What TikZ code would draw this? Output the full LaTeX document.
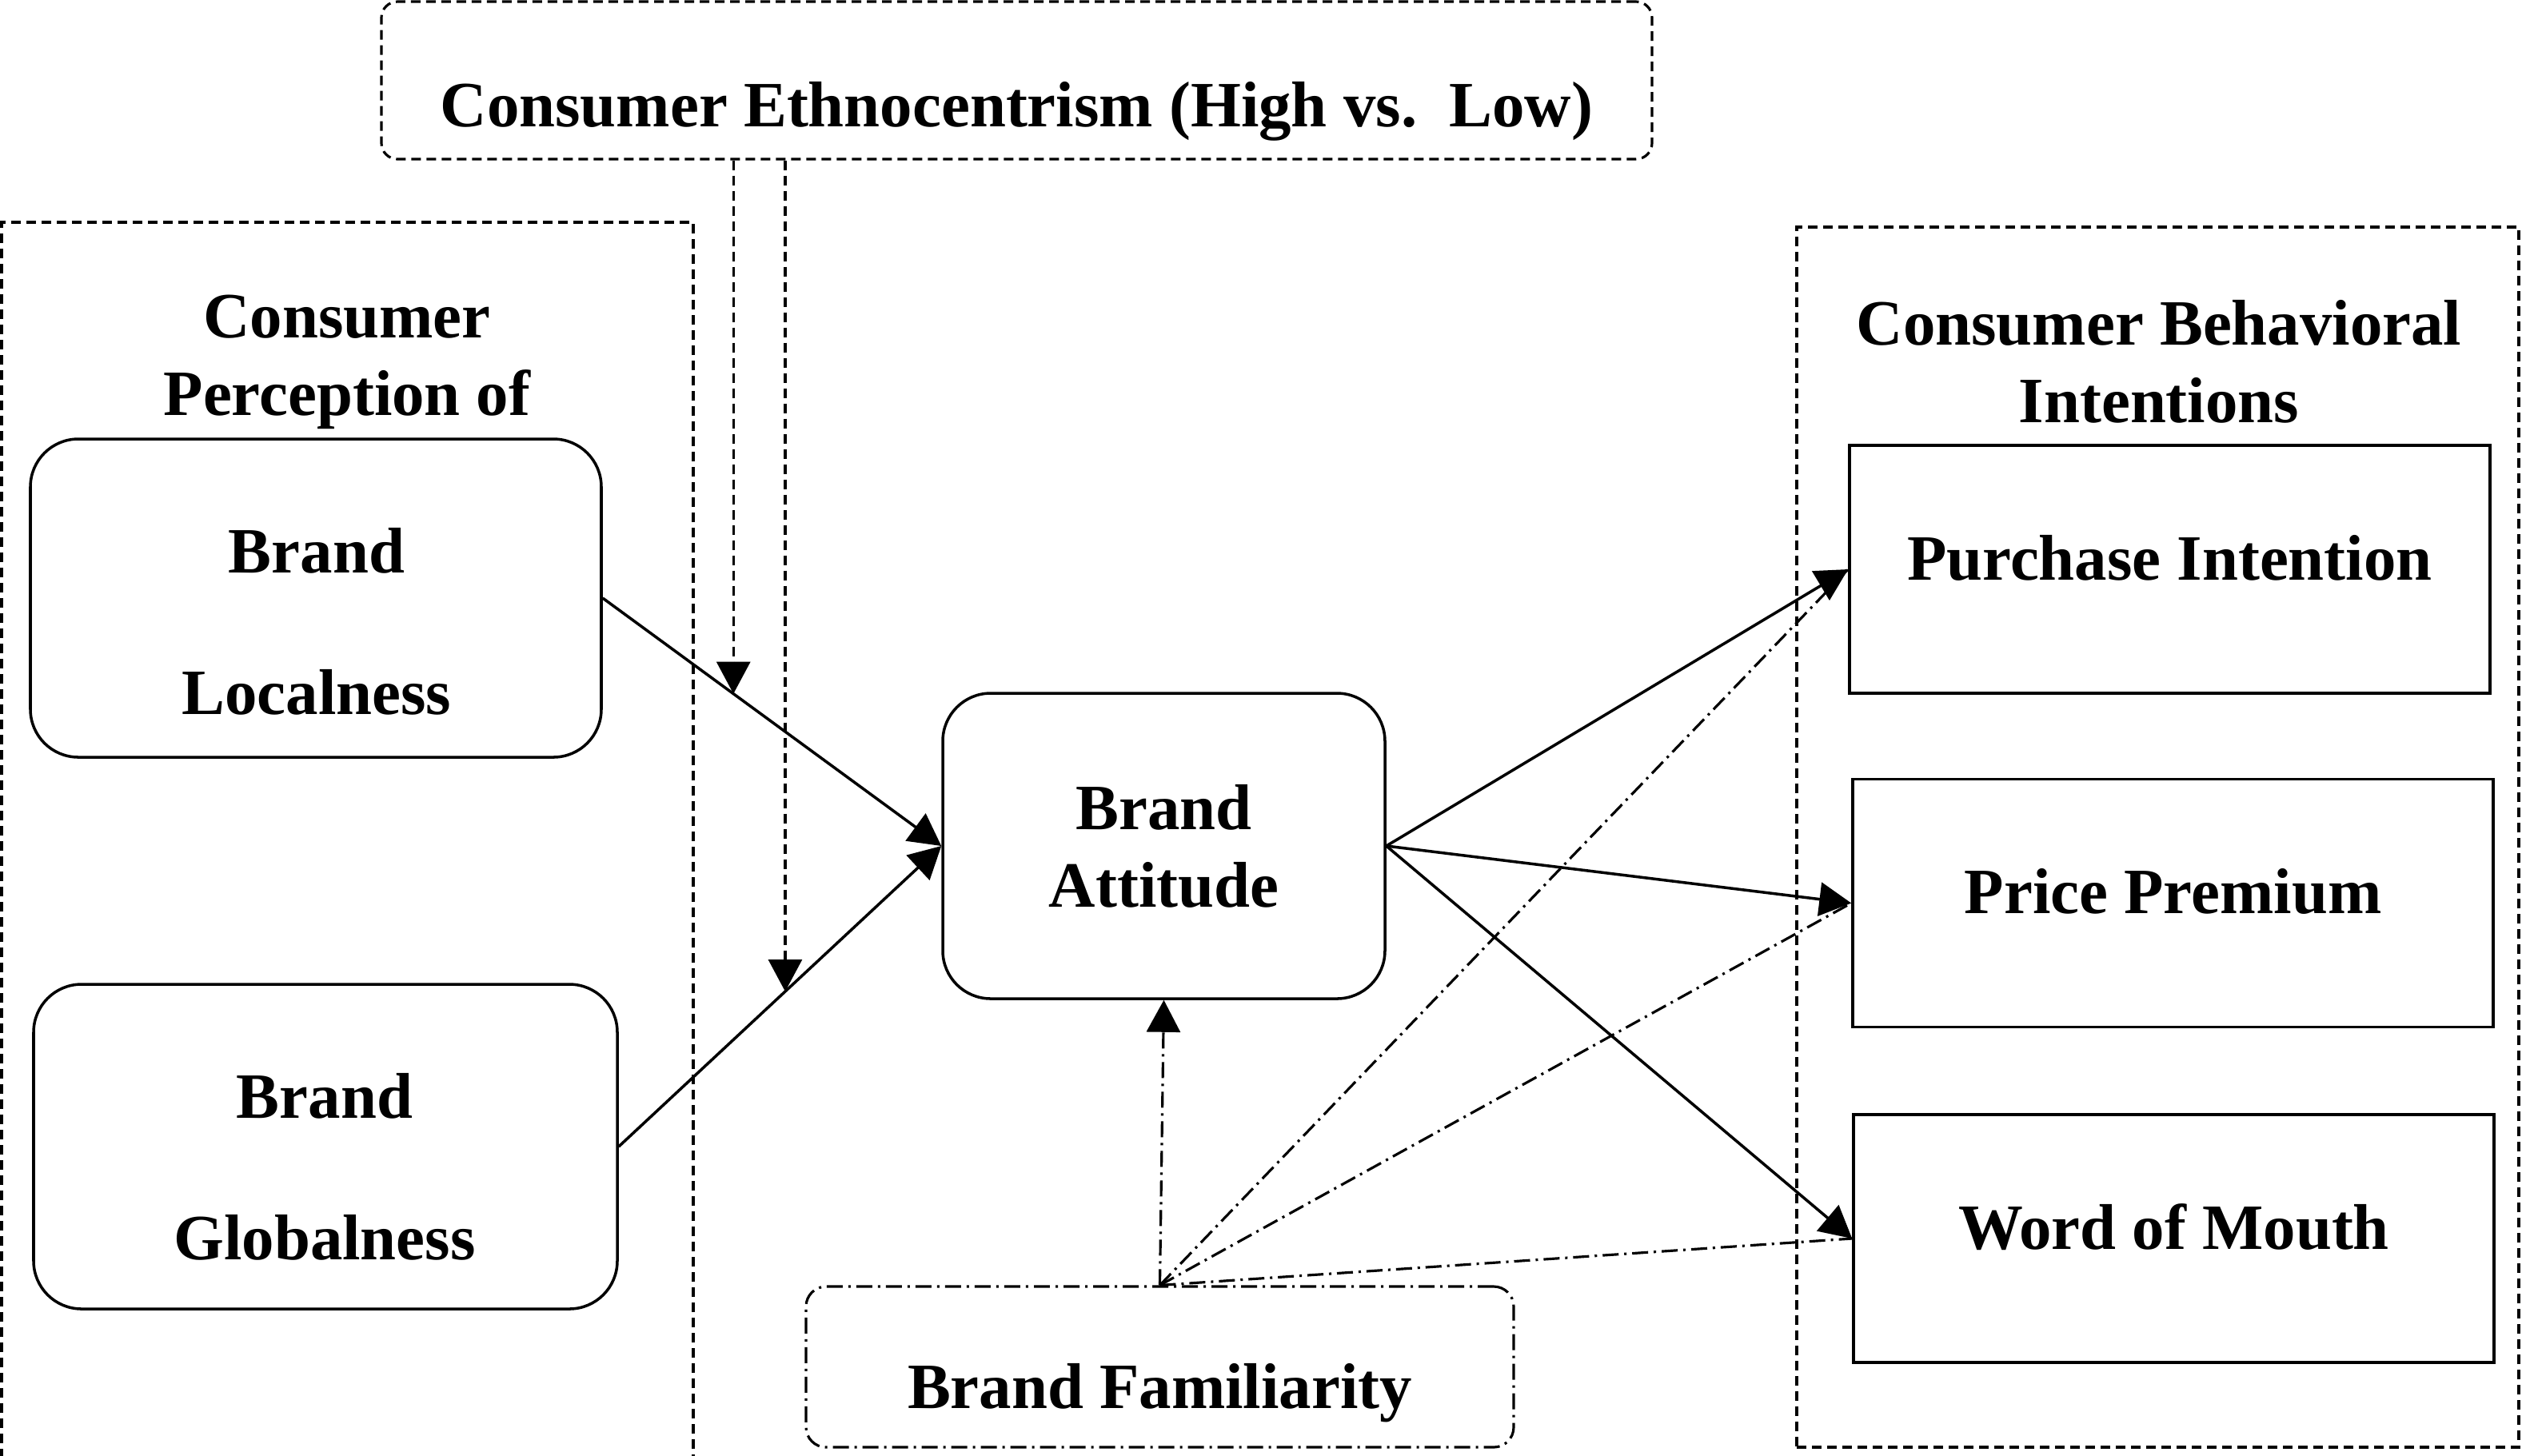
\documentclass[tikz,border=0pt]{standalone}
\usepackage{fontspec}
\setmainfont{Liberation Serif}
\usepackage{tikz}
\usetikzlibrary{arrows.meta,calc}

\begin{document}
\begin{tikzpicture}[x=1cm,y=1cm,font=\fontsize{23}{27.6}\selectfont\bfseries,line width=1pt,
  grp/.style={draw,line width=0.9pt,dash pattern=on 0.12cm off 0.07cm},
  roundbox/.style={draw,rounded corners=0.6cm},
  outbox/.style={draw,inner sep=0pt,minimum width=8.01cm,text height=1.68cm,text depth=1.42cm},
  link/.style={-{Triangle[length=0.40cm,width=0.42cm]}},
  modlink/.style={link,line width=0.9pt,dash pattern=on 0.12cm off 0.07cm},
  famlink/.style={line width=0.9pt,dash pattern=on 0.2cm off 0.07cm on 0.03cm off 0.07cm}]
  \useasboundingbox (0,0) rectangle (31.54,-18.20);

  % groups
  \node[grp,minimum width=8.65cm,minimum height=15.62cm] (lgrp) at (4.345,-10.59) {};
  \node[grp,minimum width=9.03cm,minimum height=15.26cm] (rgrp) at (26.985,-10.47) {};
  \node[align=center] (ltitle) at (4.34,-4.53) {Consumer\\Perception of};
  \node[align=center] (rtitle) at (27.00,-4.52) {Consumer Behavioral\\Intentions};

  % moderator
  \node[grp,rounded corners=0.2cm,inner sep=0pt,minimum width=15.89cm,text height=1.56cm,text depth=0.41cm]
    (ce) at (12.715,-1.005) {Consumer Ethnocentrism (High vs.\ \ Low)};

  % brand perception
  \node[roundbox,minimum width=7.14cm,minimum height=3.98cm] (bl) at (3.95,-7.48) {};
  \node[align=center] (bltext) at (3.96,-7.77) {Brand\\[22.8pt]Localness};
  \node[roundbox,minimum width=7.30cm,minimum height=4.06cm] (bg) at (4.07,-14.34) {};
  \node[align=center] (bgtext) at (4.06,-14.59) {Brand\\[22.8pt]Globalness};

  % attitude and familiarity
  \node[roundbox,minimum width=5.53cm,minimum height=3.82cm,align=center] (ba) at (14.555,-10.58) {Brand\\Attitude};
  \node[draw,famlink,rounded corners=0.25cm,inner sep=0pt,minimum width=8.85cm,text height=1.52cm,text depth=0.49cm]
    (bf) at (14.505,-17.095) {Brand Familiarity};

  % intentions
  \node[outbox] (pi) at (27.135,-7.12) {Purchase Intention};
  \node[outbox] (pp) at (27.175,-11.295) {Price Premium};
  \node[outbox] (wom) at (27.185,-15.49) {Word of Mouth};

  % paths
  \draw[link] (bl.east) -- (ba.west);
  \draw[link] (bg.east) -- (ba.west);
  \foreach \t in {pi,pp,wom}{\draw[link] (ba.east) -- (\t.west);}
  \draw[famlink,link] (bf.north) -- (ba.south);
  \foreach \t in {pi,pp,wom}{\draw[famlink] (bf.north) -- (\t.west);}
  \coordinate (m1) at ($(bl.east)!0.386!(ba.west)$);
  \coordinate (m2) at ($(bg.east)!0.516!(ba.west)$);
  \draw[modlink] (m1 |- ce.south) -- (m1);
  \draw[modlink] (m2 |- ce.south) -- (m2);
\end{tikzpicture}
\end{document}
